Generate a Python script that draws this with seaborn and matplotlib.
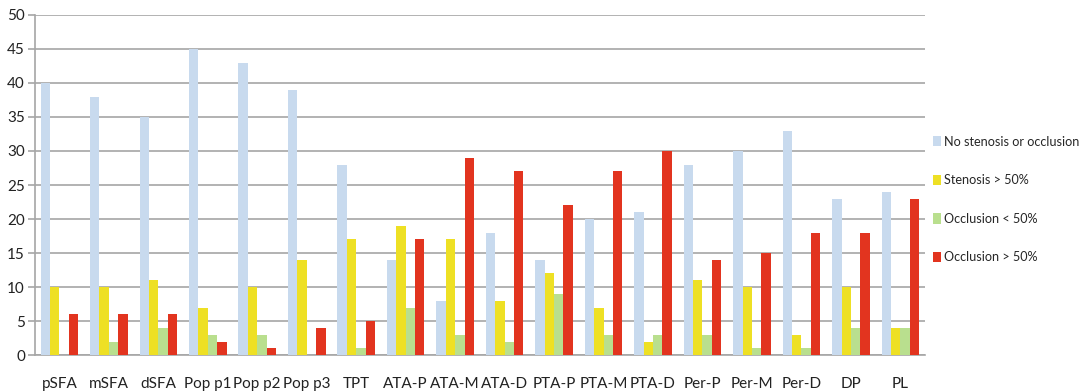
import numpy as np
import pandas as pd
import matplotlib
matplotlib.use("Agg")
import matplotlib.pyplot as plt
import seaborn as sns
from matplotlib.patches import Patch

segments = ["pSFA", "mSFA", "dSFA", "Pop p1", "Pop p2", "Pop p3", "TPT",
            "ATA-P", "ATA-M", "ATA-D", "PTA-P", "PTA-M", "PTA-D",
            "Per-P", "Per-M", "Per-D", "DP", "PL"]
no_stenosis = [40, 38, 35, 45, 43, 39, 28, 14, 8, 18, 14, 20, 21, 28, 30, 33, 23, 24]
stenosis_gt50 = [10, 10, 11, 7, 10, 14, 17, 19, 17, 8, 12, 7, 2, 11, 10, 3, 10, 4]
occlusion_lt50 = [0, 2, 4, 3, 3, 0, 1, 7, 3, 2, 9, 3, 3, 3, 1, 1, 4, 4]
occlusion_gt50 = [6, 6, 6, 2, 1, 4, 5, 17, 29, 27, 22, 27, 30, 14, 15, 18, 18, 23]

series = ["No stenosis or occlusion", "Stenosis > 50%", "Occlusion < 50%", "Occlusion > 50%"]
colors = ["#c8daee", "#eee024", "#b9df8e", "#e2341f"]

df = pd.DataFrame({
    "segment": segments * 4,
    "status": np.repeat(series, len(segments)),
    "count": no_stenosis + stenosis_gt50 + occlusion_lt50 + occlusion_gt50,
})

sns.set_style("white")
plt.rcParams["font.family"] = ["Lato", "DejaVu Sans"]

fig = plt.figure(figsize=(10.82, 3.92), dpi=100)
ax = fig.add_axes([0.032, 0.094, 0.823, 0.868])

sns.barplot(data=df, x="segment", y="count", hue="status", palette=colors,
            width=0.76, saturation=1, legend=False, linewidth=0, ax=ax, zorder=3)

ax.set_ylim(0, 50)
ax.set_xlim(-0.5, len(segments) - 0.5)
ax.set_yticks(range(0, 51, 5))
ax.yaxis.grid(True, color="#a6a6a6", linewidth=1.2, zorder=0)
ax.set_axisbelow(True)
ax.set_xlabel("")
ax.set_ylabel("")

for side in ["top", "right"]:
    ax.spines[side].set_visible(False)
ax.spines["left"].set_color("#a6a6a6")
ax.spines["bottom"].set_color("#a6a6a6")
ax.spines["left"].set_linewidth(1.2)
ax.spines["bottom"].set_linewidth(1.2)

ax.set_xticks(np.arange(-0.5, len(segments)), minor=True)
ax.tick_params(axis="x", which="major", length=0, pad=16, labelsize=11, colors="#222222")
ax.tick_params(axis="x", which="minor", length=5, color="#a6a6a6", width=1.2)
ax.tick_params(axis="y", length=5, color="#a6a6a6", width=1.2, labelsize=11,
               colors="#222222", left=True, pad=2)

handles = [Patch(facecolor=c, edgecolor="none") for c in colors]
fig.legend(handles, series, loc="upper left", bbox_to_anchor=(0.858, 0.667),
           frameon=False, fontsize=9.1, handlelength=0.6, handleheight=0.9,
           handletextpad=0.25, labelspacing=2.1, borderaxespad=0)

fig.savefig("out.png", dpi=100)
